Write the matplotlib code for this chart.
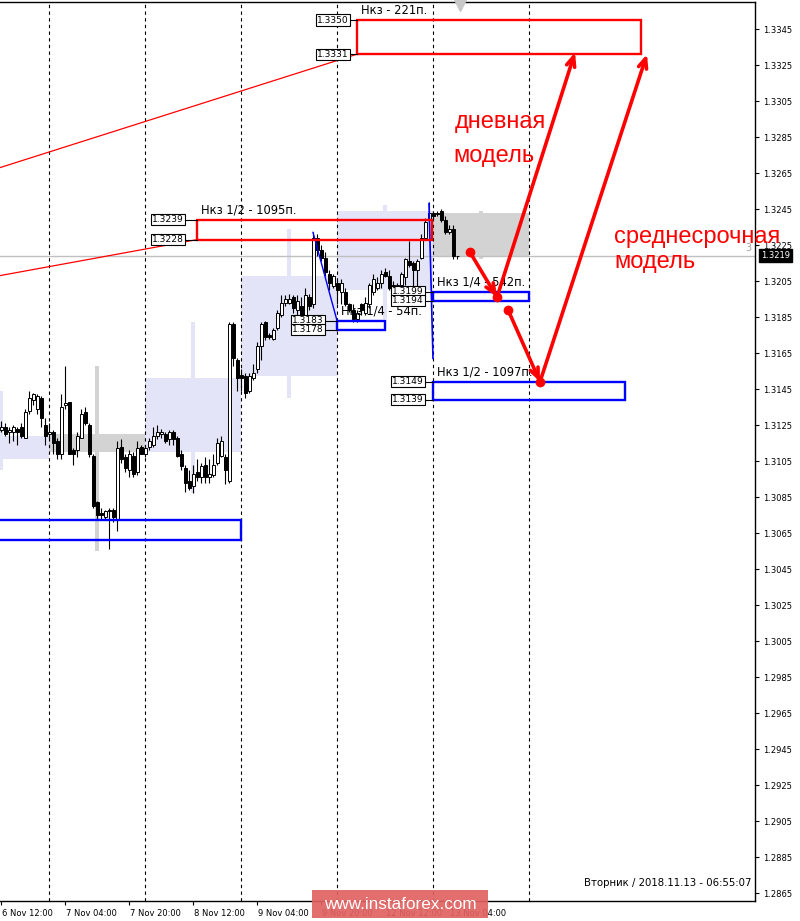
import matplotlib
matplotlib.use("Agg")
import matplotlib.pyplot as plt
from matplotlib.patches import Rectangle
import matplotlib.transforms as mtransforms
import numpy as np

plt.rcParams['font.family'] = ['DejaVu Sans']

# ---------------- DATA (H1 EURUSD-like bars, index 0 = 6 Nov 12:00) ----------------
opens = [1.3122, 1.3124, 1.3121, 1.3121, 1.3123, 1.3124, 1.3118, 1.3133, 1.3139, 1.3134,
         1.3140, 1.3125, 1.3120, 1.3121, 1.3116, 1.3109, 1.3136, 1.3138, 1.3111, 1.3111,
         1.3118, 1.3132, 1.3125, 1.3108, 1.3082, 1.3076, 1.3074, 1.3078, 1.3078, 1.3073,
         1.3113, 1.3107, 1.3100, 1.3108, 1.3099, 1.3113, 1.3109, 1.3113, 1.3114, 1.3119,
         1.3120, 1.3120, 1.3117, 1.3121, 1.3118, 1.3109, 1.3101, 1.3094, 1.3091, 1.3099,
         1.3096, 1.3103, 1.3096, 1.3097, 1.3104, 1.3108, 1.3107, 1.3094, 1.3181, 1.3161,
         1.3153, 1.3152, 1.3144, 1.3151, 1.3156, 1.3169, 1.3182, 1.3175, 1.3173, 1.3179,
         1.3186, 1.3193, 1.3193, 1.3196, 1.3189, 1.3191, 1.3186, 1.3196, 1.3192, 1.3229,
         1.3222, 1.3218, 1.3209, 1.3202, 1.3204, 1.3199, 1.3199, 1.3192, 1.3189, 1.3184,
         1.3192, 1.3187, 1.3192, 1.3199, 1.3201, 1.3204, 1.3210, 1.3208, 1.3203, 1.3200,
         1.3203, 1.3207, 1.3216, 1.3215, 1.3211, 1.3218, 1.3229, 1.3239, 1.3243, 1.3243,
         1.3244, 1.3239, 1.3232, 1.3234, 1.3219]
highs = [1.3127, 1.3126, 1.3124, 1.3125, 1.3124, 1.3126, 1.3134, 1.3144, 1.3143, 1.3142,
         1.3141, 1.3129, 1.3126, 1.3122, 1.3118, 1.3142, 1.3158, 1.3138, 1.3112, 1.3121,
         1.3134, 1.3135, 1.3126, 1.3109, 1.3083, 1.3079, 1.3078, 1.3079, 1.3079, 1.3116,
         1.3117, 1.3109, 1.3111, 1.3110, 1.3116, 1.3114, 1.3114, 1.3118, 1.3124, 1.3125,
         1.3123, 1.3121, 1.3122, 1.3122, 1.3119, 1.3111, 1.3103, 1.3100, 1.3103, 1.3106,
         1.3104, 1.3107, 1.3106, 1.3109, 1.3118, 1.3119, 1.3109, 1.3182, 1.3182, 1.3162,
         1.3156, 1.3154, 1.3154, 1.3159, 1.3171, 1.3182, 1.3183, 1.3176, 1.3179, 1.3189,
         1.3197, 1.3197, 1.3198, 1.3197, 1.3197, 1.3196, 1.3201, 1.3198, 1.3232, 1.3231,
         1.3225, 1.3221, 1.3211, 1.3209, 1.3206, 1.3206, 1.3201, 1.3193, 1.3192, 1.3189,
         1.3193, 1.3196, 1.3204, 1.3209, 1.3207, 1.3211, 1.3212, 1.3211, 1.3205, 1.3204,
         1.3210, 1.3218, 1.3227, 1.3216, 1.3217, 1.3231, 1.3240, 1.3249, 1.3244, 1.3244,
         1.3245, 1.3241, 1.3236, 1.3236, 1.3219]
lows = [1.3121, 1.3119, 1.3115, 1.3116, 1.3114, 1.3118, 1.3118, 1.3131, 1.3136, 1.3131,
        1.3124, 1.3114, 1.3118, 1.3109, 1.3106, 1.3106, 1.3134, 1.3109, 1.3103, 1.3107,
        1.3118, 1.3125, 1.3107, 1.3079, 1.3072, 1.3072, 1.3073, 1.3056, 1.3071, 1.3066,
        1.3104, 1.3099, 1.3096, 1.3096, 1.3097, 1.3109, 1.3107, 1.3111, 1.3113, 1.3117,
        1.3118, 1.3115, 1.3114, 1.3114, 1.3107, 1.3100, 1.3088, 1.3089, 1.3087, 1.3094,
        1.3093, 1.3093, 1.3093, 1.3096, 1.3103, 1.3107, 1.3092, 1.3093, 1.3158, 1.3144,
        1.3144, 1.3140, 1.3143, 1.3150, 1.3154, 1.3161, 1.3172, 1.3173, 1.3172, 1.3178,
        1.3185, 1.3191, 1.3192, 1.3187, 1.3186, 1.3179, 1.3178, 1.3189, 1.3190, 1.3219,
        1.3216, 1.3208, 1.3200, 1.3201, 1.3192, 1.3192, 1.3191, 1.3188, 1.3182, 1.3182,
        1.3186, 1.3186, 1.3190, 1.3197, 1.3200, 1.3201, 1.3207, 1.3200, 1.3197, 1.3197,
        1.3201, 1.3203, 1.3213, 1.3201, 1.3202, 1.3217, 1.3228, 1.3238, 1.3239, 1.3241,
        1.3238, 1.3231, 1.3231, 1.3217, 1.3217]
closes = [1.3124, 1.3120, 1.3122, 1.3124, 1.3121, 1.3119, 1.3132, 1.3140, 1.3142, 1.3141,
          1.3129, 1.3119, 1.3121, 1.3115, 1.3109, 1.3135, 1.3137, 1.3109, 1.3109, 1.3119,
          1.3131, 1.3126, 1.3109, 1.3080, 1.3075, 1.3075, 1.3077, 1.3077, 1.3074, 1.3112,
          1.3106, 1.3101, 1.3109, 1.3098, 1.3112, 1.3109, 1.3112, 1.3116, 1.3119, 1.3121,
          1.3121, 1.3116, 1.3121, 1.3117, 1.3108, 1.3102, 1.3093, 1.3090, 1.3098, 1.3096,
          1.3102, 1.3096, 1.3098, 1.3103, 1.3115, 1.3116, 1.3100, 1.3181, 1.3162, 1.3151,
          1.3151, 1.3143, 1.3152, 1.3154, 1.3169, 1.3181, 1.3174, 1.3174, 1.3178, 1.3187,
          1.3193, 1.3195, 1.3195, 1.3190, 1.3194, 1.3184, 1.3197, 1.3191, 1.3229, 1.3222,
          1.3218, 1.3210, 1.3204, 1.3208, 1.3200, 1.3204, 1.3192, 1.3189, 1.3184, 1.3187,
          1.3189, 1.3193, 1.3203, 1.3206, 1.3204, 1.3209, 1.3208, 1.3201, 1.3197, 1.3203,
          1.3209, 1.3217, 1.3214, 1.3211, 1.3216, 1.3229, 1.3238, 1.3243, 1.3241, 1.3242,
          1.3239, 1.3232, 1.3234, 1.3219, 1.3219]

# daily candles drawn in the background
day_starts = [-12, 12, 36, 60, 84, 108]
day_open = [1.3106, 1.3120, 1.3110, 1.3152, 1.3200, 1.3243]
day_high = [1.3144, 1.3158, 1.3182, 1.3234, 1.3247, 1.3244]
day_low = [1.3100, 1.3055, 1.3087, 1.3140, 1.3184, 1.3217]
day_close = [1.3119, 1.3110, 1.3151, 1.3208, 1.3244, 1.3219]

x_tick_pos = [0, 16, 32, 48, 64, 80, 96, 112]
x_tick_labels = ["6 Nov 12:00", "7 Nov 04:00", "7 Nov 20:00", "8 Nov 12:00",
                 "9 Nov 04:00", "9 Nov 20:00", "12 Nov 12:00", "13 Nov 04:00"]
y_ticks = [1.2865, 1.2885, 1.2905, 1.2925, 1.2945, 1.2965, 1.2985, 1.3005, 1.3025,
           1.3045, 1.3065, 1.3085, 1.3105, 1.3125, 1.3145, 1.3165, 1.3185, 1.3205,
           1.3225, 1.3245, 1.3265, 1.3285, 1.3305, 1.3325, 1.3345]
current_price = 1.3219

# zones: (x start, x end, upper, lower, colour, caption, tag offset px)
zones = [
    (89, 160, 1.3350, 1.3331, "red", "Нкз - 221п.", 6),
    (49, 107.75, 1.3239, 1.3228, "red", "Нкз 1/2 - 1095п.", 11),
    (84, 96, 1.3183, 1.3178, "blue", "Нкз 1/4 - 54п.", 11),
    (108, 132, 1.3199, 1.3194, "blue", "Нкз 1/4 - 542п.", 7),
    (108, 156, 1.3149, 1.3139, "blue", "Нкз 1/2 - 1097п.", 7),
    (-2, 60, 1.3072, 1.3061, "blue", None, 0),
]

# ---------------- FIGURE ----------------
fig = plt.figure(figsize=(8, 9.21), dpi=100)
ax = fig.add_axes([0, 20 / 921, 755 / 800, 899 / 921])
ax.set_xlim(-0.25, 188.5)
ax.set_ylim(1.286056, 1.3360)

LAV = "#E4E4F8"
GRY = "#D3D3D3"

# daily background candles
dc = np.array(day_starts) + 12
do, dcl = np.array(day_open), np.array(day_close)
dcols = [LAV if c >= o else GRY for o, c in zip(do, dcl)]
ax.bar(dc, np.abs(dcl - do), bottom=np.minimum(do, dcl), width=24, color=dcols, lw=0, zorder=1)
ax.bar(dc, np.array(day_high) - np.array(day_low), bottom=day_low, width=0.8, color=dcols, lw=0, zorder=1)

# day separators
for s in day_starts[1:] + [132]:
    ax.axvline(s, color="black", lw=0.8, ls=(0, (3, 3)), zorder=2)

# current price line
ax.axhline(current_price, color="#C0C0C0", lw=1, zorder=2)

# candles
x = np.arange(len(opens))
o, h, l, c = map(np.array, (opens, highs, lows, closes))
ax.vlines(x, l, h, color="black", lw=0.8, zorder=4)
cols = ["white" if cc >= oo else "black" for oo, cc in zip(o, c)]
ax.bar(x, np.abs(c - o), bottom=np.minimum(o, c), width=0.75, color=cols,
       edgecolor="black", lw=0.7, zorder=5)

# trend lines
ax.plot([-0.25, 89], [1.3268, 1.3331], color="red", lw=0.9, zorder=3)
ax.plot([-0.25, 49], [1.3208, 1.3228], color="red", lw=0.9, zorder=3)
ax.plot([78, 84], [1.3232, 1.3183], color="blue", lw=1, zorder=6)
ax.plot([107, 108], [1.3248, 1.3162], color="blue", lw=1.2, zorder=6)

# zones
for x0, x1, hi, lo, col, cap, off in zones:
    ax.add_patch(Rectangle((x0, lo), x1 - x0, hi - lo, fill=False, ec=col, lw=1.7, zorder=6))
    if cap:
        ax.annotate(cap, xy=(x0, hi), xytext=(4, 10), textcoords="offset pixels",
                    ha="left", va="center", fontsize=8.3, zorder=7)
        for p in (hi, lo):
            ax.plot([x0 - off / 4, x0], [p, p], color="black", lw=0.8, zorder=6)
            ax.annotate(f"{p:.4f}", xy=(x0, p), xytext=(-off - 2, 0), textcoords="offset pixels",
                        ha="right", va="center", fontsize=6.6, zorder=7,
                        bbox=dict(boxstyle="square,pad=0.12", fc="white", ec="black", lw=0.8))

# arrows
arrow_kw = dict(arrowstyle="->,head_length=0.7,head_width=0.3", color="red", lw=2.6,
                shrinkA=0, shrinkB=0)
paths = [((117.25, 1.3221), (124, 1.3196)), ((124, 1.3196), (143.5, 1.3332)),
         ((126.75, 1.3189), (134.75, 1.3149)), ((134.75, 1.3149), (161.5, 1.3331))]
for s, e in paths:
    ax.annotate("", xy=e, xytext=s, arrowprops=arrow_kw, zorder=8)
for px, py in [(117.25, 1.3221), (124, 1.3196), (126.75, 1.3189), (134.75, 1.3149)]:
    ax.plot(px, py, "o", color="red", ms=6, zorder=8)

red_font = ["Liberation Sans", "DejaVu Sans"]
ax.text(113.5, 1.3290, "дневная", color="red", fontsize=17, family=red_font, va="baseline", zorder=9)
ax.text(113.0, 1.3271, "модель", color="red", fontsize=17, family=red_font, va="baseline", zorder=9)
ax.text(153.25, 1.32261, "среднесрочная", color="red", fontsize=17, family=red_font,
        va="baseline", zorder=20, clip_on=False)
ax.text(153.25, 1.32122, "модель", color="red", fontsize=17, family=red_font, va="baseline", zorder=9)

# small marks
ax.plot(114.75, 1.33585, marker="v", color="#C8C8C8", ms=8, zorder=3, clip_on=False)
ax.text(0.9907, 1.32233, "3", transform=mtransforms.blended_transform_factory(ax.transAxes, ax.transData),
        color="#A0A0A0", fontsize=7, ha="center", va="center")

# axes styling
ax.spines["left"].set_visible(False)
for sp in ("top", "right", "bottom"):
    ax.spines[sp].set_linewidth(1)
ax.yaxis.tick_right()
ax.set_yticks(y_ticks)
ax.set_yticklabels([f"{v:.4f}" for v in y_ticks])
ax.tick_params(axis="y", direction="out", length=3, pad=3, labelsize=6)
ax.set_xticks(x_tick_pos)
ax.set_xticklabels(x_tick_labels)
ax.tick_params(axis="x", direction="out", length=3, pad=3, labelsize=6)
shift = mtransforms.ScaledTranslation(1 / 100, 0, fig.dpi_scale_trans)
for lab in ax.get_xticklabels():
    lab.set_horizontalalignment("left")
    lab.set_transform(lab.get_transform() + shift)

ax.annotate(f"{current_price:.4f}", xy=(1, current_price), xycoords=("axes fraction", "data"),
            xytext=(6, 0), textcoords="offset pixels", ha="left", va="center", color="white",
            fontsize=6, annotation_clip=False,
            bbox=dict(boxstyle="square,pad=0.25", fc="black", ec="black"))

ax.text(752 / 755, 0.02, "Вторник / 2018.11.13 - 06:55:07", transform=ax.transAxes,
        ha="right", va="center", fontsize=7.3)

# watermark
fig.patches.append(Rectangle((312 / 800, 3 / 921), 176 / 800, 28 / 921, transform=fig.transFigure,
                             fc="#E06262", ec="none", alpha=0.92, zorder=30))
fig.text(0.5, 1 - 904 / 921, "www.instaforex.com", color="white", fontsize=12.3,
         family=["Liberation Sans", "DejaVu Sans"], ha="center", va="center", zorder=31)

fig.savefig("out.png", dpi=100)
